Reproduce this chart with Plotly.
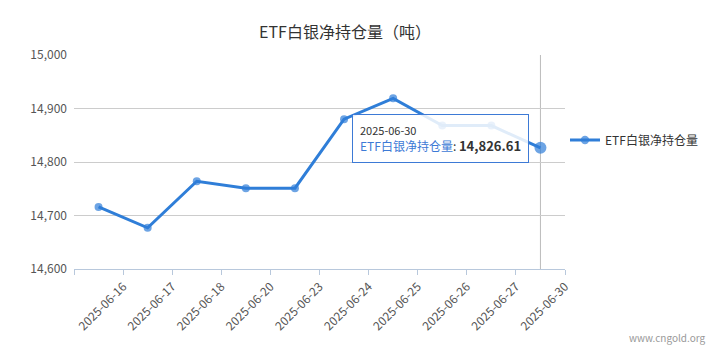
import plotly.graph_objects as go

dates = ["2025-06-16", "2025-06-17", "2025-06-18", "2025-06-20", "2025-06-23",
         "2025-06-24", "2025-06-25", "2025-06-26", "2025-06-27", "2025-06-30"]
values = [14716, 14677, 14764, 14751, 14751, 14880, 14919, 14868, 14868, 14826.61]
series_name = "ETF白银净持仓量"
title_text = "ETF白银净持仓量（吨）"
y_ticks = [14600, 14700, 14800, 14900, 15000]

FONT = "Noto Sans CJK SC"
BLUE = "#2f7ed8"

n = len(dates)
xpos = [i + 0.5 for i in range(n)]
sizes = [8] * (n - 1) + [12]

fig = go.Figure()
fig.add_trace(go.Scatter(
    x=xpos, y=values, mode="lines+markers", name=series_name,
    line=dict(color=BLUE, width=3),
    marker=dict(color=BLUE, size=sizes, line=dict(width=0)),
    hoverinfo="skip",
))

fig.add_shape(type="line", xref="x", yref="paper", x0=xpos[-1], x1=xpos[-1], y0=0, y1=1,
              line=dict(color="#bbbbbb", width=1), layer="below")

last_val = values[-1]
fig.add_annotation(
    xref="paper", yref="paper", x=(352 - 74) / 491, y=(269 - 114) / 214,
    xanchor="left", yanchor="top", showarrow=False, align="left",
    text=(f"<span style='font-size:11px;color:#333'>{dates[-1]}</span><br>"
          f"<span style='color:#3d7ad6'>{series_name}</span>: "
          f"<b style='font-size:13px;color:#333'>{last_val:,.2f}</b>"),
    font=dict(family=FONT, size=12, color="#333"),
    bgcolor="rgba(255,255,255,0.85)", bordercolor="#3d7ad6", borderwidth=1,
    borderpad=7,
)

fig.add_annotation(
    xref="paper", yref="paper", x=(708 - 74) / 491, y=(269 - 337) / 214,
    xanchor="right", yanchor="middle", showarrow=False,
    text="www.cngold.org", font=dict(family=FONT, size=10, color="#999"),
)

fig.update_layout(
    width=722, height=356,
    margin=dict(l=74, r=157, t=55, b=87),
    paper_bgcolor="white", plot_bgcolor="white",
    font=dict(family=FONT, size=12, color="#555"),
    title=dict(text=title_text, x=345 / 722, xanchor="center", y=1 - 32 / 356, yanchor="middle",
               font=dict(family=FONT, size=16, color="#333")),
    showlegend=True,
    legend=dict(x=1.0, y=(269 - 140) / 214, xanchor="left", yanchor="middle",
                font=dict(family=FONT, size=12, color="#333"), itemwidth=30,
                bgcolor="rgba(0,0,0,0)"),
    xaxis=dict(range=[0, n], tickmode="array", tickvals=list(range(n + 1)),
               ticktext=[""] + dates, tickangle=-45, showgrid=False, zeroline=False,
               showline=True, linecolor="#b8c8dc", linewidth=1, ticks="outside",
               tickcolor="#b8c8dc", ticklen=5, tickfont=dict(family=FONT, size=12, color="#555")),
    yaxis=dict(range=[14600, 15000], tickmode="array", tickvals=y_ticks,
               ticktext=[f"{v:,}" for v in y_ticks], showgrid=True, gridcolor="#cccccc",
               zeroline=False, showline=False, ticks="", ticklabelstandoff=6,
               tickfont=dict(family=FONT, size=12, color="#555")),
)

fig.write_html("out.html", config={"displayModeBar": False},
               post_script="document.body.style.margin='0';")
